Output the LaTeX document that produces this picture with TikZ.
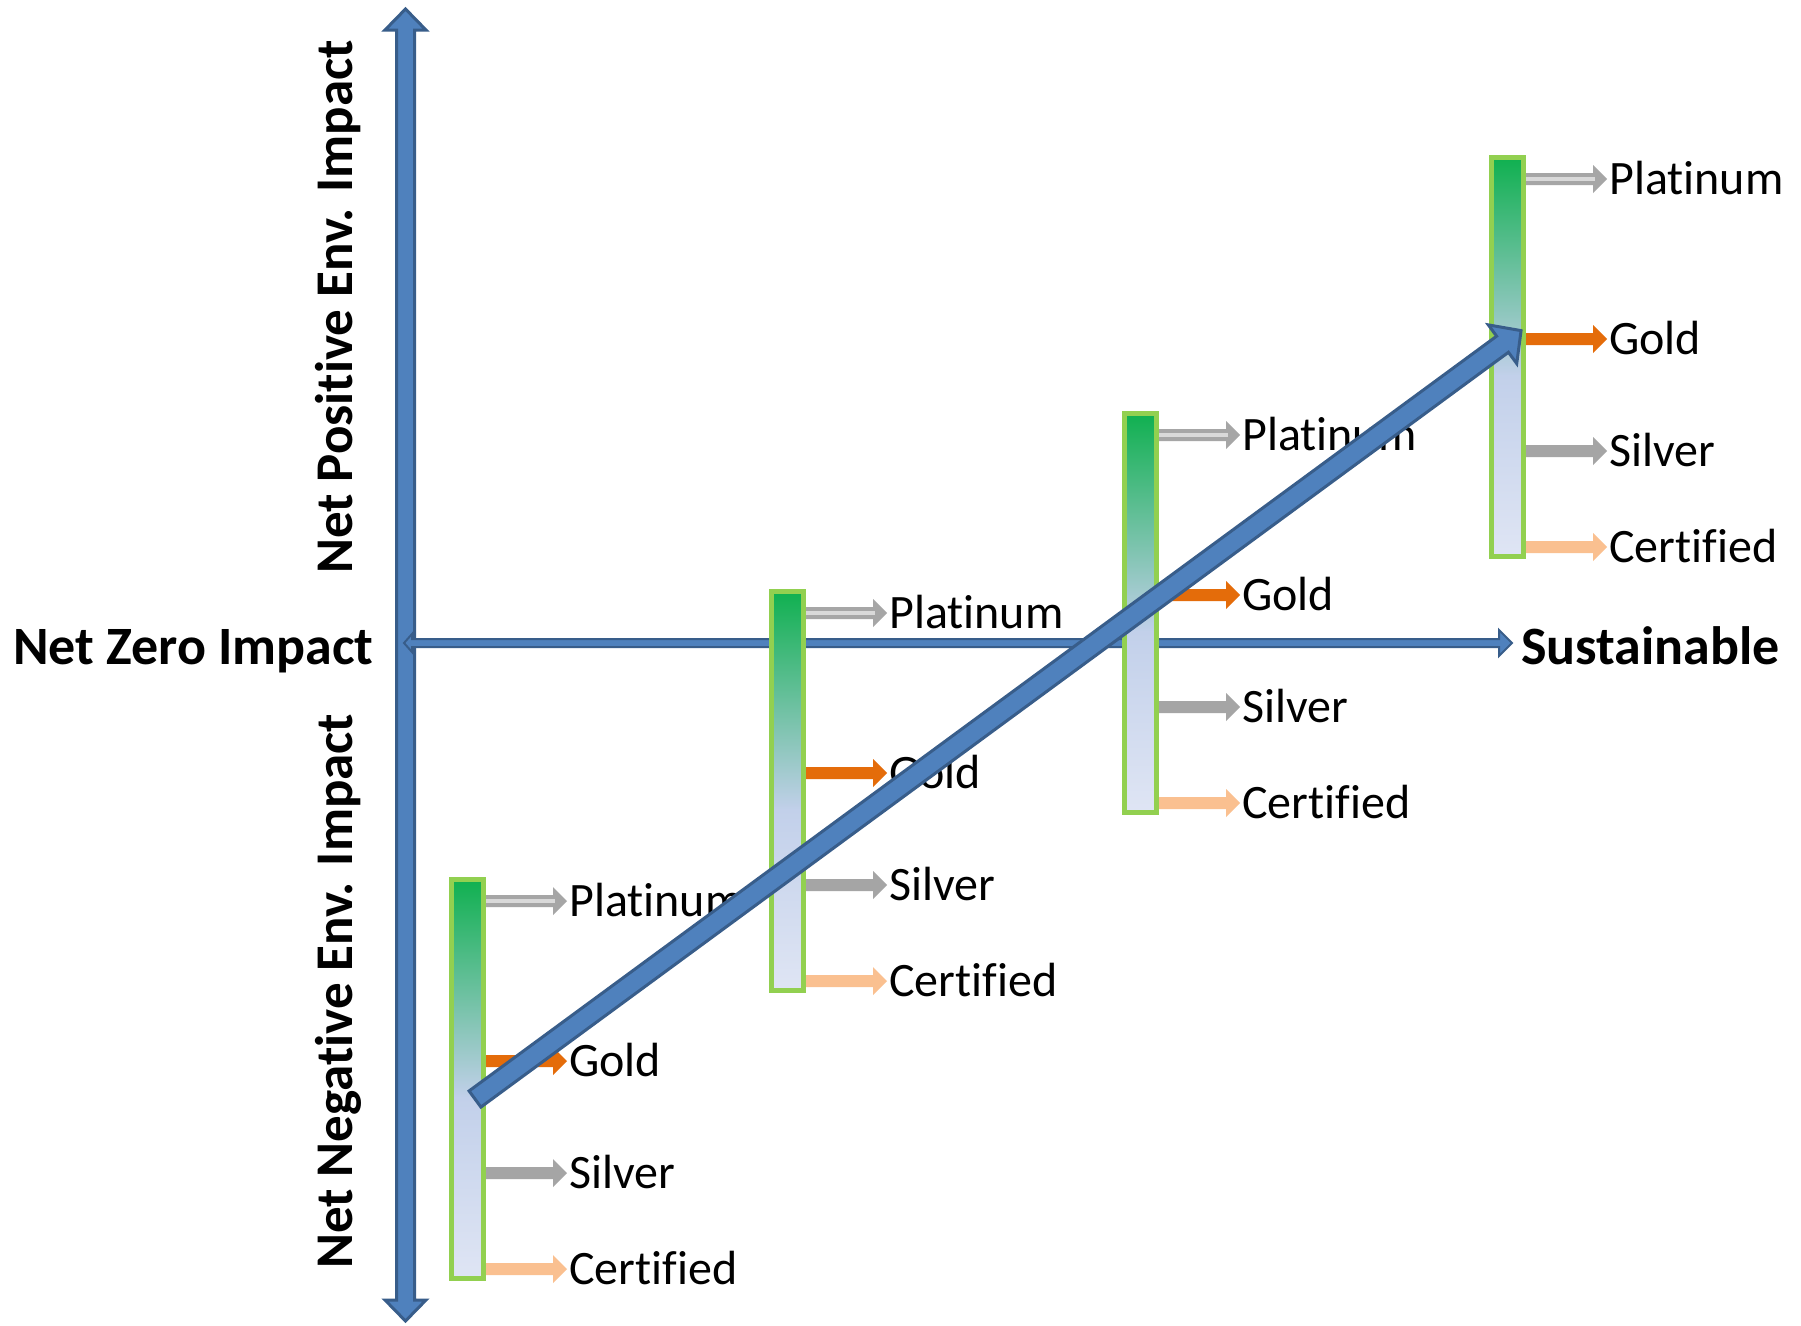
\documentclass[tikz,border=0pt]{standalone}
\usepackage{fontspec}
\setmainfont{Carlito}[Ligatures=NoCommon]
\usetikzlibrary{calc}
\definecolor{axfill}{HTML}{4F81BD}
\definecolor{axline}{HTML}{385D8A}
\definecolor{bargreen}{HTML}{92D050}
\definecolor{shtop}{RGB}{16,176,80}
\definecolor{shmid}{RGB}{194,208,234}
\definecolor{shbot}{RGB}{223,229,244}
\definecolor{platc}{HTML}{A6A6A6}
\definecolor{platlight}{HTML}{D9D9D9}
\definecolor{goldc}{HTML}{E46C0A}
\definecolor{silverc}{HTML}{A5A5A5}
\definecolor{certc}{HTML}{FAC090}
\tikzset{
  blockarrow/.style={fill=axfill, draw=axline, line join=miter},
  lvltext/.style={anchor=base west, inner sep=0pt, font=\fontsize{48}{57}\selectfont},
  axtext/.style={anchor=base west, inner sep=0pt, font=\bfseries\fontsize{54}{65}\selectfont},
  vaxtext/.style={anchor=base west, inner sep=0pt, rotate=90, font=\bfseries\fontsize{53}{64}\selectfont},
  barframe/.style={draw=bargreen, line width=5pt},
}
\newcommand\lvlarrow[3]{%
  \fill[#3] (#1+30,#2-6) -- (#1+104,#2-6) -- (#1+104,#2-14) -- (#1+118,#2)
    -- (#1+104,#2+14) -- (#1+104,#2+6) -- (#1+30,#2+6) -- cycle;}
\newcommand\levelbar[3]{%
  \lvlarrow{#2}{#3+24}{platc}
  \fill[platlight] (#2+34,#3+22) rectangle (#2+106,#3+26);
  \lvlarrow{#2}{#3+184}{goldc}
  \lvlarrow{#2}{#3+296}{silverc}
  \lvlarrow{#2}{#3+392}{certc}
  \shade[top color=shtop, bottom color=shmid] (#2+2.5,#3+2.5) rectangle (#2+34.5,#3+221);
  \shade[top color=shmid, bottom color=shbot] (#2+2.5,#3+220.5) rectangle (#2+34.5,#3+401.5);
  \draw[barframe] (#2+2.5,#3+2.5) rectangle (#2+34.5,#3+401.5);
  \node[lvltext] (#1p) at (#2+120,#3+24+15) {Platinum};
  \node[lvltext] (#1g) at (#2+120,#3+184+15) {Gold};
  \node[lvltext] (#1s) at (#2+120,#3+296+15) {Silver};
  \node[lvltext] (#1c) at (#2+120,#3+392+15) {Certified};
}
\begin{document}
\begin{tikzpicture}[x=1pt,y=-1pt]
\useasboundingbox (0,0) rectangle (1801,1325);
\fill[white] (0,0) rectangle (1801,1325);
% vertical axis
\draw[blockarrow, line width=3pt] (405.5,9) -- (426,30) -- (414.5,30) -- (414.5,1300) -- (426,1300)
  -- (405.5,1321) -- (385,1300) -- (396.5,1300) -- (396.5,30) -- (385,30) -- cycle;
% horizontal axis
\draw[blockarrow, line width=2pt] (404,643) -- (412,634) -- (412,639) -- (1499,639) -- (1499,630)
  -- (1512,643) -- (1499,656) -- (1499,647) -- (412,647) -- (412,652) -- cycle;
% level bars
\levelbar{a}{449}{877}
\levelbar{b}{769}{589}
\levelbar{c}{1122}{411}
\levelbar{d}{1489}{155}
% diagonal progress arrow
\begin{scope}[shift={(475,1099)}, rotate=36.3]
\draw[blockarrow, line width=3pt] (0,-10) -- (1275,-10) -- (1275,-24) -- (1298,0)
  -- (1275,24) -- (1275,10) -- (0,10) -- cycle;
\end{scope}
% axis labels
\node[axtext] (nz) at (13,664) {Net Zero Impact};
\node[axtext] (sus) at (1521,664) {Sustainable};
\node[vaxtext] (npos) at (352,574) {Net Positive Env. Impact};
\node[vaxtext] (nneg) at (352,1269) {Net Negative Env. Impact};
\end{tikzpicture}
\end{document}
